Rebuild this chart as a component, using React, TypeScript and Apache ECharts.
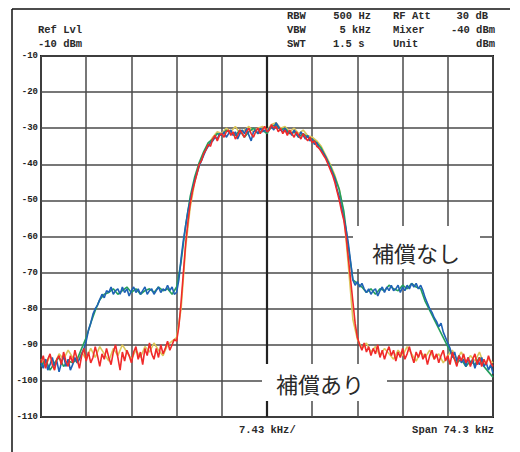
import React, { useEffect, useRef } from "react";
import * as echarts from "echarts";

// x positions are in screen divisions (0..10), 7.43 kHz per division
const FINE_STEP_DIV = 0.05;
const COARSE_STEP_DIV = 0.1;
const Y_TICKS = [-10, -20, -30, -40, -50, -60, -70, -80, -90, -100, -110];

// 補償なし (without compensation) – blue trace, 0.05 div steps
const BLUE_DBM = [
  -95, -96.5, -94, -97, -95.5, -93.5, -96, -94.5, -97.5, -95,
  -93, -96, -94, -97, -95.5, -93.5, -95, -94, -92.5, -91,
  -89, -86, -84, -81.5, -80, -79, -77.5, -76, -77, -75,
  -75.5, -74, -76, -75, -74.5, -76, -74, -75.5, -74.5, -76.5,
  -75, -74, -75.5, -74.5, -76, -75, -74, -76, -75, -74.5,
  -76, -75, -74, -75.5, -74.5, -75, -73.5, -75, -74, -76,
  -75.5, -72, -66, -61, -57, -53, -50, -47, -44.5, -42.5,
  -40.5, -39, -37.5, -36, -35, -34, -33.5, -32.5, -33, -31.5,
  -32, -31, -32.5, -31.5, -30.5, -32, -31, -33, -31.5, -30.5,
  -31.5, -30, -32, -33.5, -31, -30.5, -31.5, -30, -31, -30.5,
  -31, -30, -29.5, -30.5, -28.5, -29.5, -30.5, -31, -30, -31.5,
  -31, -32, -30.5, -31.5, -32.5, -31, -32, -33, -32, -33.5,
  -33, -34.5, -34, -35.5, -36, -37, -38, -39.5, -41, -42.5,
  -44, -47, -49, -52, -55, -58, -62, -67, -72, -73.5,
  -72.5, -74, -73, -74.5, -75.5, -74.5, -76, -75, -74.5, -76.5,
  -75, -74, -75.5, -74, -75, -73.5, -75, -74.5, -73.5, -75.5,
  -74, -75, -73.5, -74.5, -73, -74, -73, -74.5, -73.5, -75,
  -77, -78.5, -80, -81, -82.5, -83.5, -85, -84, -86.5, -88,
  -89.5, -91, -93.5, -92, -94.5, -93, -95, -94, -96, -93.5,
  -95.5, -94, -96.5, -94.5, -95.5, -93.5, -96, -95, -97, -95.5,
  -98,
];

// 補償あり (with compensation) – red trace, 0.05 div steps
const RED_DBM = [
  -95, -93, -96.5, -94, -92.5, -95.5, -97, -94, -93, -95.5,
  -92, -94.5, -96, -93, -95, -91.5, -94, -96.5, -93, -91,
  -94.5, -92, -95, -93.5, -90.5, -93, -96, -92.5, -94, -91,
  -93.5, -95.5, -92, -90, -93.5, -97, -92, -94.5, -91.5, -93,
  -95, -92, -90.5, -94, -92, -95.5, -91, -93, -89.5, -92.5,
  -94, -91, -93.5, -90, -92.5, -91, -89, -91.5, -90, -88.5,
  -89, -85, -78, -70, -62, -56, -51, -47.5, -45, -42.5,
  -40, -39, -37, -36, -34.5, -35, -33, -32, -33.5, -32,
  -31.5, -32.5, -31, -30.5, -32, -31, -33, -32, -30.5, -31.5,
  -32.5, -31, -30, -31.5, -32.5, -31, -30, -31.5, -30.5, -29.5,
  -31, -30.5, -29, -30, -29.5, -31, -30, -31.5, -30.5, -32,
  -30.5, -31.5, -32.5, -31, -32, -33, -31.5, -32.5, -33.5, -32.5,
  -34, -33.5, -35, -35.5, -36.5, -37.5, -38.5, -40, -41.5, -43,
  -45, -47.5, -50, -53, -55.5, -60, -66, -72, -78, -84,
  -88, -90, -91.5, -89.5, -92, -90.5, -93, -91, -92.5, -90,
  -93.5, -91.5, -94, -92, -90.5, -93, -91.5, -94.5, -92, -93.5,
  -91, -94, -92.5, -90.5, -93, -95, -92, -93.5, -91.5, -94,
  -92.5, -95.5, -93, -91.5, -94, -92.5, -95, -93, -91.5, -94.5,
  -93, -95.5, -92, -94, -96, -93, -94.5, -92.5, -95, -93.5,
  -96, -94, -92.5, -95.5, -93.5, -96, -94, -95.5, -93, -95,
  -96,
];

// 補償なし – green trace, 0.1 div steps
const GREEN_DBM = [
  -96, -94, -97, -95, -93.5, -96, -94.5, -95, -94, -91,
  -88, -84, -80.5, -77.5, -76, -75.5, -74.5, -76, -75, -74,
  -75.5, -74.5, -76, -75, -74.5, -75.5, -74, -75, -74.5, -76,
  -74, -67, -57, -49, -43.5, -39.5, -36.5, -34, -33, -31.5,
  -32, -30.5, -31.5, -32, -30.5, -32.5, -31, -30, -31.5, -30.5,
  -31.5, -29.5, -29, -30.5, -30, -31.5, -31, -32.5, -31.5, -32.5,
  -33, -34, -35.5, -38, -40.5, -43.5, -47, -53, -63, -72,
  -73, -74, -75.5, -74.5, -76, -74.5, -75, -73.5, -74.5, -75,
  -73.5, -74.5, -73, -74, -74.5, -78, -80.5, -83, -85.5, -88,
  -90.5, -93, -95, -94, -96, -94.5, -95.5, -93.5, -96, -97.5,
  -99,
];

// 補償あり – yellow trace, 0.1 div steps
const YELLOW_DBM = [
  -94, -96, -93, -95.5, -92.5, -94, -91.5, -93.5, -95, -92,
  -94, -91, -93.5, -90.5, -92.5, -94.5, -91, -93, -90, -92,
  -94, -91.5, -93.5, -90.5, -92, -89.5, -91.5, -93, -90, -89,
  -88, -80, -63, -52, -45, -40.5, -37, -34.5, -32.5, -31,
  -31.5, -30, -31, -29.5, -31.5, -30.5, -29.5, -31, -30, -29.5,
  -30.5, -29, -28.5, -30, -29.5, -31, -30, -31.5, -30.5, -32,
  -32.5, -33.5, -35, -37.5, -40, -43, -47, -54, -68, -83,
  -88.5, -91, -89.5, -92, -90.5, -93, -91, -92.5, -94, -91.5,
  -93, -90.5, -92.5, -94.5, -92, -93.5, -91.5, -94, -92.5, -95,
  -93, -91.5, -94, -92, -95, -93, -94.5, -92, -95.5, -94,
  -95,
];

const HEADER_LEFT = ["Ref Lvl", "-10 dBm"];
const HEADER_COL1 = ["RBW", "VBW", "SWT"];
const HEADER_COL2 = ["500 Hz", "5 kHz", "1.5 s"];
const HEADER_COL3 = ["RF Att", "Mixer", "Unit"];
const HEADER_COL4 = ["30 dB", "-40 dBm", "dBm"];
const FOOTER_LEFT = "7.43 kHz/";
const FOOTER_RIGHT = "Span 74.3 kHz";
const LABEL_WITHOUT = "補償なし";
const LABEL_WITH = "補償あり";

const toPairs = (vals: number[], step: number) =>
  vals.map((v, i) => [+(i * step).toFixed(3), v]);

export default function App() {
  const ref = useRef<HTMLDivElement>(null);
  useEffect(() => {
    if (!ref.current) return;
    const chart = echarts.init(ref.current, null, { renderer: "svg" });
    const mono = "'Liberation Mono', 'DejaVu Sans Mono', monospace";
    const hdr = (text: string, x: number, y: number, align: string = "left") => ({
      type: "text",
      x,
      y,
      z: 100,
      style: {
        text,
        font: `bold 10.5px ${mono}`,
        fill: "#2a2a2a",
        textAlign: align,
        textVerticalAlign: "middle",
      },
    });
    const rows = [16, 29.5, 43.5];
    const graphics: any[] = [
      { type: "line", z: 100, shape: { x1: 12, y1: 9, x2: 510, y2: 9 }, style: { stroke: "#111", lineWidth: 1.5 } },
      { type: "line", z: 100, shape: { x1: 12, y1: 9, x2: 12, y2: 452 }, style: { stroke: "#111", lineWidth: 1.5 } },
      hdr(HEADER_LEFT[0], 38, rows[1]),
      hdr(HEADER_LEFT[1], 38, rows[2]),
      ...HEADER_COL1.map((t, i) => hdr(t, 287, rows[i])),
      hdr(HEADER_COL2[0], 371, rows[0], "right"),
      hdr(HEADER_COL2[1], 371, rows[1], "right"),
      hdr(HEADER_COL2[2], 333, rows[2]),
      ...HEADER_COL3.map((t, i) => hdr(t, 393, rows[i])),
      hdr(HEADER_COL4[0], 488, rows[0], "right"),
      hdr(HEADER_COL4[1], 495, rows[1], "right"),
      hdr(HEADER_COL4[2], 495, rows[2], "right"),
      hdr(FOOTER_LEFT, 239, 430),
      hdr(FOOTER_RIGHT, 494, 430, "right"),
      { type: "rect", z: 100, shape: { x: 353, y: 226, width: 127, height: 43 }, style: { fill: "#fff" } },
      {
        type: "text", z: 101, x: 416, y: 252,
        style: { text: LABEL_WITHOUT, font: "22px 'Noto Sans CJK JP'", fill: "#2a2a2a", textAlign: "center", textVerticalAlign: "middle" },
      },
      { type: "rect", z: 100, shape: { x: 262, y: 364, width: 125, height: 37 }, style: { fill: "#fff" } },
      {
        type: "text", z: 101, x: 320, y: 383,
        style: { text: LABEL_WITH, font: "22px 'Noto Sans CJK JP'", fill: "#2a2a2a", textAlign: "center", textVerticalAlign: "middle" },
      },
    ];
    const line = (name: string, data: number[][], color: string, z: number) => ({
      name,
      type: "line",
      data,
      symbol: "none",
      z,
      lineStyle: { color, width: 1.6 },
      emphasis: { disabled: true },
    });
    chart.setOption({
      animation: false,
      backgroundColor: "#fff",
      grid: {
        left: 41,
        top: 56,
        width: 452,
        height: 361,
        show: true,
        borderColor: "#1a1a1a",
        borderWidth: 2,
        backgroundColor: "#fff",
      },
      xAxis: {
        type: "value",
        min: 0,
        max: 10,
        interval: 1,
        axisLabel: { show: false },
        axisTick: { show: false },
        axisLine: { show: false },
        splitLine: { show: true, lineStyle: { color: "#4a4a4a", width: 1.5 } },
      },
      yAxis: {
        type: "value",
        min: -110,
        max: -10,
        interval: 10,
        axisTick: { show: false },
        axisLine: { show: false },
        axisLabel: {
          margin: 3,
          color: "#222",
          fontFamily: mono,
          fontWeight: "bold",
          fontSize: 9,
          formatter: (v: number) => (Y_TICKS.includes(v) ? String(v) : ""),
        },
        splitLine: { show: true, lineStyle: { color: "#4a4a4a", width: 1.5 } },
      },
      series: [
        {
          type: "line",
          data: [],
          z: 1,
          markLine: {
            silent: true,
            z: 1,
            symbol: "none",
            label: { show: false },
            lineStyle: { color: "#222", width: 2.2, type: "solid" },
            data: [{ xAxis: 5 }],
          },
        },
        line("yellow", toPairs(YELLOW_DBM, COARSE_STEP_DIV), "#dcc65a", 2),
        line("green", toPairs(GREEN_DBM, COARSE_STEP_DIV), "#25a05a", 3),
        line("blue", toPairs(BLUE_DBM, FINE_STEP_DIV), "#1f62b5", 4),
        line("red", toPairs(RED_DBM, FINE_STEP_DIV), "#f02a2a", 5),
      ],
      graphic: graphics,
    });
    return () => chart.dispose();
  }, []);
  return (
    <div
      ref={ref}
      style={{ position: "fixed", left: 0, top: 0, width: 520, height: 452, background: "#fff" }}
    />
  );
}
